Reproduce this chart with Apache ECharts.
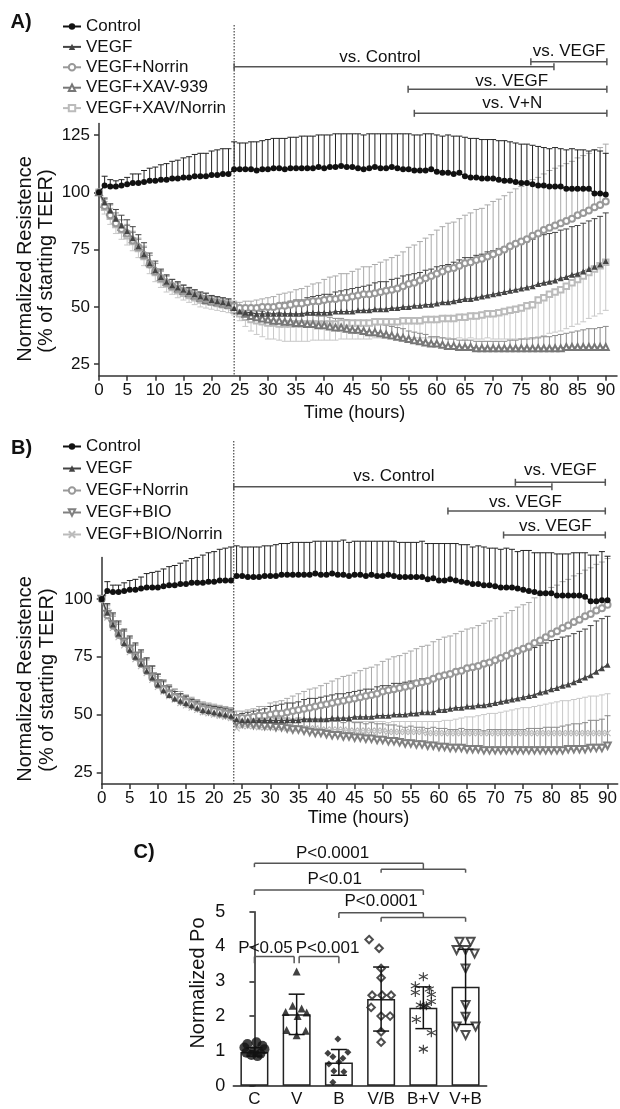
<!DOCTYPE html>
<html><head><meta charset="utf-8">
<script src="https://cdn.jsdelivr.net/npm/echarts@6/dist/echarts.min.js"></script>
<style>html,body{margin:0;padding:0;background:#fff}#c{width:620px;height:1109px}</style>
</head><body><div id="c"></div>
<script>
// ---------------- DATA ----------------
const hours = [0,1,2,3,4,5,6,7,8,9,10,11,12,13,14,15,16,17,18,19,20,21,22,23,
24,25,26,27,28,29,30,31,32,33,34,35,36,37,38,39,40,41,42,43,44,45,46,47,48,49,
50,51,52,53,54,55,56,57,58,59,60,61,62,63,64,65,66,67,68,69,70,71,72,73,74,75,
76,77,78,79,80,81,82,83,84,85,86,87,88,89,90];
const xTicks = [0,5,10,15,20,25,30,35,40,45,50,55,60,65,70,75,80,85,90];
const yTicksA = [25,50,75,100,125];
const yTicksB = [25,50,75,100];
const legendA = ['Control','VEGF','VEGF+Norrin','VEGF+XAV-939','VEGF+XAV/Norrin'];
const legendB = ['Control','VEGF','VEGF+Norrin','VEGF+BIO','VEGF+BIO/Norrin'];

// Panel A
const aControl = [100,103,102.5,102.5,103,103.5,104,104,104.5,105,105,105.5,105.5,106,106,106.5,106.5,107,107,107,107.5,107.5,108,108,
110,110,110,110,109.5,110,110,110.5,110.5,110,
110.5,110.5,110.5,110.5,110.5,111,110.5,111,111,111.5,
111,111,110.5,110,110.5,111,110.5,110.5,111,110.5,
110,110,109.5,109.5,109.5,110,109,108.5,108.5,108,
108.5,107,106.5,106.5,106,106,106,105.5,105,105,
104.5,104,104,103.5,103,103,102.5,102.5,102.5,101.5,
101.5,101.5,101.5,101.5,99.5,99.5,99];
const aControlErr = [0,4,3,2.5,2.5,3,4,4,5,5.5,6,6.5,7,7.5,8,8.5,9,9.5,10,10,10.5,11,11,11,
12,11.5,11.5,12,12.5,12.5,13,13,13,13.5,
13.5,13.5,14,14,14,14,14.5,14,14.5,14,
14.5,14.5,15,15,15,14.5,15,15,14.5,15,
15.5,15.5,15.5,15.5,16,15.5,16,16,16.5,16.5,
16,17,17,17,17,17,17,17,17.5,17,
17,17,17,17,17,16.5,16.5,17,16.5,17,
17.5,17,17,16.5,19,18.5,18];
const aVegf = [100,95.5,92,88.5,85.5,83,80,76.5,73,69,66,63,61,59.5,58.5,57.5,56.5,55.5,54.5,54,53,52.5,52,51.5,
49.5,48,47.5,47.5,47,47,47,47,47,47,
47,47,47,47.5,47.5,47.5,47.5,47.5,48,48,
48,48,48.5,48.5,48.5,49,49,49,49.5,49.5,
50,50,50.5,50.5,51,51,51.5,52,52,52.5,
53,53.5,53.5,54,54.5,55,55.5,56,56.5,57,
57.5,58,58.5,59,60,60.5,61,61.5,62.5,63,
64,64.5,65.5,66.5,67.5,68.5,70];
const aVegfErr = [0,2,3,4,4.5,5,5,5,5,4.5,4,3.5,3,2.5,2.5,2,2,2,2,2,2,2,2,2,
1,2,2.5,3,3,3.5,4,4,4.5,5,
5.5,6,6,6.5,7,7.5,8,8,8.5,9,
9.5,10,10,10.5,11,11.5,12,12,12.5,13,
13.5,14,14,14.5,15,15.5,16,16,16.5,17,
17.5,18,18,18.5,18.5,19,19,19.5,19.5,20,
20,20,20.5,20.5,21,21,21,21,21,21,
21,21,21,21,21,21,21];
const aNorrin = [100,94,90,86.5,84,82,79,76,72.5,68.5,65.5,62.5,60.5,59,58,57,56,55,54,53.5,52.5,52,51.5,51,
50.5,49.5,49.5,49.5,49.5,50,50,50,50.5,50.5,
51,51.5,51.5,52,52.5,52.5,53,53.5,53.5,54,
54,54.5,55,55.5,55.5,56,56.5,57,57.5,58,
59,60,60.5,61.5,62.5,63.5,64.5,65.5,66.5,67,
68,69,69.5,70.5,71,72,73,74,75,76.5,
77.5,78.5,79.5,81,82,83.5,84.5,85.5,86.5,87.5,
88.5,90,91,92,93.5,94.5,96];
const aNorrinErr = [0,2,3,3.5,4,4,4,4,4,4,3.5,3,3,3,2.5,2.5,2.5,2.5,2.5,2.5,2.5,2.5,2.5,2.5,
2,2.5,3,3,3.5,3.5,4,4.5,5,5.5,
5.5,6,6.5,7,7.5,8,9,9.5,10,10.5,
10.5,11,11.5,12,12,12.5,13,13.5,14,14.5,
15,16,16.5,17,17.5,18,19,19.5,20,20,
20.5,21,21.5,22,22,22.5,23,23,23.5,23.5,
24,24,24,24.5,24.5,24.5,25,25,25,25,
25,25,25,25,25,25,25];
const aXav = [100,95,91.5,88,85,82.5,79.5,76.5,73,69.5,66,63,61,59.5,58,57,56,55,54,53,52.5,52,51.5,51,
50,48.5,47,46,45.5,45,44.5,44,44,43.5,
43.5,43,43,42.5,42.5,42,42,41.5,41,41,
40.5,40,40,39.5,39,39,38.5,38,37.5,37,
36.5,36,35.5,35,34.5,34,34,33.5,33,33,
32.5,32.5,32.5,32,32,32,32,32,32,32,
32,32,32,32,32,32,32,32,32,32.5,
32.5,32.5,32.5,32.5,32.5,32.5,32.5];
const aXavErr = [0,2,3,3,3,3,3,3,3,3,3,3,2.5,2.5,2.5,2.5,2,2,2,2,2,2,2,2,
2,2,2.5,2.5,3,3,3,3,3.5,3.5,
3.5,3.5,4,4,4,4,4,4,4,4,
4,4,4,4,4,4,4,4,4,4,
4,3.5,3.5,3.5,3.5,3,3,3,3,3,
3,3,3,3,3,3,3,3,3,3.5,
3.5,4,4,4.5,4.5,5,5,5.5,6,6,
6.5,7,7.5,8,8,8.5,9];
const aXavN = [100,93.5,89.5,86,83.5,81,78.5,75.5,72,68.5,65,62,60,58.5,57,56,55,54,53,52.5,52,51.5,51,50.5,
48.5,47,45.5,44.5,44,43.5,43,43,42.5,42.5,
42.5,42.5,42.5,42.5,42.5,42.5,42.5,42.5,42.5,43,
43,43,43,43,43,43.5,43.5,43.5,43.5,43.5,
44,44,44,44,44.5,44.5,44.5,45,45,45,
45.5,45.5,46,46,46.5,47,47,47.5,48,48.5,
49,49.5,50.5,51,53,54,55.5,56.5,57.5,59,
60.5,62,63.5,65,66.5,68,69.5];
const aXavNErr = [0,3,3.5,4,4,4,4,4,4,4,4,3.5,3.5,3,3,3,3,3,3,3,3,3,3,3,
2,3,4,5,6,6.5,7,7,7,7.5,
7.5,7.5,7.5,7.5,7,7,7,7,7,7,
7,7,7,7,7,7,7,7,7,7,
7,7.5,7.5,7.5,8,8,8,8.5,8.5,9,
9,9.5,9.5,10,10.5,10.5,11,11.5,12,12.5,
13,13.5,14,15,16,16.5,17,17.5,18,18.5,
19,19.5,20,20,20.5,21,21];

// Panel B
const bControl = [100,103.5,103,103,103.5,104,104,104.5,105,105,105,105.5,106,106,106.5,106.5,107,107,107,107.5,107.5,108,108,108,
110,110,109.5,109.5,109.5,110,110,110,110.5,110.5,
110.5,110.5,110.5,110.5,111,110.5,110.5,111,110.5,110.5,
110,110.5,110.5,110,110.5,110,110,110.5,110,109.5,
109.5,109.5,109.5,109.5,108.5,109,108,108,108.5,108,
107.5,107,106.5,106.5,106,106,105.5,105,105,105,
104.5,104,103.5,103,102.5,102.5,102.5,101.5,101.5,101.5,
101.5,101.5,101,99,99,99.5,99.5];
const bControlErr = [0,4,3,3,3.5,4,4.5,5,6,6.5,7,7.5,8,8.5,9,10,10.5,11,12,12.5,13,13.5,14,14.5,
13,12.5,13,13,13,13,13,13.5,13.5,13.5,
14,14,14,14,14,14.5,14.5,14,14.5,15,
14.5,14.5,14.5,15,14.5,15,15,14.5,15,15,
15,15,15,15.5,15.5,15,16,16,15.5,16,
16,16.5,16,16.5,16.5,16,16.5,16.5,17,16.5,
16,17,17.5,17,17.5,17.5,17.5,18,18,18,
18.5,18.5,19,20,20,21,19];
const bVegf = [100,94,89,85,81,78,75,72,69,66,63,60.5,58.5,57,56,55,54,53,52,51.5,51,50.5,50,49.5,
48,47.5,47.5,47.5,47.5,47.5,47.5,47.5,47.5,47.5,
47.5,47.5,48,48,48,48,48,48.5,48.5,48.5,
48.5,49,49,49,49,49.5,49.5,49.5,50,50,
50,50.5,50.5,51,51,51,52,52,52.5,53,
53,53.5,53.5,54,54,54.5,55,55.5,56,56.5,
57,57.5,58,58.5,59.5,60,61,61.5,62.5,63,
64,65,66,67,68.5,70,71.5];
const bVegfErr = [0,4,5,5.5,6,6,6,6,5.5,5,4.5,4,3.5,3,3,3,2.5,2.5,2.5,2.5,2.5,2.5,2.5,2.5,
2,3,3.5,4,4.5,5,6,6.5,7,7.5,
7.5,8,8.5,9,9,9.5,10,10,10.5,10.5,
11,11,11.5,12,12,12.5,13,13,13.5,13.5,
14,14,14,14.5,14.5,14.5,15,15.5,16,16,
16.5,17,17.5,17.5,18,18.5,19,19,19.5,19.5,
20,20,20,20.5,20.5,21,21,21,21,21,
21,21,21,21.5,22,21.5,21];
const bNorrin = [100,93,88.5,84.5,81,78,75,72,69,66,63,61,59,57.5,56.5,55.5,54.5,53.5,52.5,52,51.5,51,50.5,50,
48.5,48.5,48.5,49,49.5,49.5,50,50.5,50.5,51,
51.5,52,52.5,53,53.5,54,54.5,55,55.5,56,
56.5,57,57.5,58,58.5,59,60,60.5,61,61.5,
62,62.5,63.5,64,64.5,65.5,66.5,67,67.5,68.5,
69,70,70.5,71,72,72.5,73.5,74.5,75.5,76.5,
77.5,78.5,79.5,81,82,83.5,85,86,87.5,88.5,
90,91,92.5,93.5,95,96,97.5];
const bNorrinErr = [0,3,4,4.5,5,5,5,5,5,5,4.5,4,4,3.5,3.5,3,3,3,3,3,3,3,3,3,
3,3,3.5,3.5,4,4,5,5,5.5,6,
6.5,7,7.5,8,8,8.5,9,9.5,10,10.5,
10.5,11,11.5,12,12,12.5,13,13.5,14,14,
14.5,15,15,15.5,15.5,16,16,16.5,16.5,16.5,
17,17,17,17.5,17.5,18,18,18,18.5,18.5,
19,19,19,19.5,19.5,19.5,20,20,20,20,
20,20,20,20,20,20,20];
const bBio = [100,93.5,89,85,81.5,78.5,75.5,72.5,69.5,66.5,63.5,61,59,57.5,56,55,54,53,52,51.5,51,50.5,50,49.5,
46.5,46,46,45.5,45.5,45,45,44.5,44.5,44,
43.5,43.5,43,42.5,42,42,41.5,41,41,40.5,
40.5,40,40,39.5,39.5,39,39,38.5,38.5,38,
37.5,37.5,37,37,36.5,36.5,36,36,35.5,35.5,
35.5,35,35,35,34.5,34.5,34.5,34.5,34.5,34.5,
34.5,34.5,34.5,34.5,34.5,34.5,34.5,34.5,34.5,35,
35,35,35,35.5,35.5,35.5,36.5];
const bBioErr = [0,4,4.5,5,5,5,5,5,5,4.5,4,4,3.5,3.5,3,3,3,3,3,3,3,3,3,3,
3,3,3,3.5,3.5,3.5,4,4,4,4.5,
4.5,5,5,5,5.5,5.5,6,6,6,6,
6.5,6.5,6.5,6.5,7,7,7,7,7,7,
7,7.5,7.5,7.5,7.5,8,8,8,8,8,
8.5,8.5,8.5,8.5,8.5,9,9,9,9,9,
9,9,9.5,9.5,9.5,10,10,10,10.5,10.5,
11,11,11.5,12,12,12.5,13];
const bBioN = [100,92,87.5,83.5,80,77,74,71,68,65,62,60,58,56.5,55,54,53,52,51,50.5,50,49.5,49,48.5,
44,45,45,45,44.5,44.5,44.5,44.5,44.5,44,
44,44,44,44,44,43.5,43.5,43.5,43.5,43.5,
43,43,43,43,43,43,43,42.5,42.5,42.5,
42.5,42.5,42.5,42.5,42,42,42,42,42,42,
42,42,42,42,42,42,42,42,42,42,
42,42,42,42,42,42,42,42,42,42,
42,42,42,42,42,42,42];
const bBioNErr = [0,5,5.5,6,6,6,6,6,5.5,5,4.5,4,4,3.5,3.5,3.5,3,3,3,3,3,3,3,3,
3,3,3,3.5,3.5,3.5,4,4,4,4,
4,4,4,4,4,4,4,4,4,4,
4,4,4,4,4,4,4,4,4.5,4.5,
4.5,4.5,4.5,4.5,5,5,5,5.5,5.5,6,
6.5,7,7,7.5,8,8.5,8.5,9,9.5,10,
10.5,11,11,11.5,12,12.5,13,13.5,14,14,
14.5,15,15.5,16,16,16.5,17];

// Significance annotations (time panels)
const sigLabelsA = ['vs. Control','vs. VEGF','vs. VEGF','vs. V+N'];
const sigFromA = [24, 76.7, 54.9, 56.0];
const sigToA = [80.8, 90.2, 90.2, 90.2];
const sigLabelsB = ['vs. Control','vs. VEGF','vs. VEGF','vs. VEGF'];
const sigFromB = [23.5, 73.6, 61.6, 71.5];
const sigToB = [80.1, 89.6, 89.6, 89.6];

// Panel C
const cCats = ['C','V','B','V/B','B+V','V+B'];
const cMean = [0.97, 2.05, 0.67, 2.49, 2.24, 2.84];
const cSd = [0.12, 0.58, 0.37, 0.92, 0.60, 1.08];
const cPtsC = [1.25,1.2,1.15,1.1,1.05,1.0,0.95,0.92,0.88,0.85];
const cPtsV = [3.28,2.3,2.22,2.12,2.1,2.0,1.6,1.58,1.45];
const cPtsB = [1.34,0.96,0.93,0.83,0.79,0.68,0.62,0.42,0.40,0.1];
const cPtsVB = [4.2,3.95,3.37,3.1,2.6,2.6,2.6,2.25,2.0,2.0,1.55,1.25];
const cPtsBV = [3.13,2.87,2.78,2.68,2.62,2.42,2.32,2.3,2.28,1.9,1.52,1.05];
const cPtsVpB = [4.14,4.14,3.9,3.9,3.8,3.37,2.32,1.98,1.7,1.7,1.46];
const cSigLabels = ['P<0.0001','P<0.01','P<0.0001','P<0.05','P<0.001'];

// ---------------- LAYOUT / STYLE ----------------
const FONT = "'Liberation Sans', Arial, Helvetica, sans-serif";
// horizontal jitter of dots inside each bar (px)
const jitC = [2,-7,8,-10,10,0,-8,6,-3,3];
const jitV = [0,-4,5,-11,10,1,-10,9,0];
const jitB = [-1,9,-11,-6,4,0,-10,-5,5,-6];
const jitVB = [-12,-2,0,0,-9,1,10,-10,0,9,0,0];
const jitBV = [0,-8,6,-8,8,8,-3,3,0,-7,8,0];
const jitVpB = [-6,5,-9,0,9,0,0,0,-9,10,0];
const CAT_PX = 42.2;

const chart = echarts.init(document.getElementById('c'), null, {renderer:'canvas'});

function errRender(dir, color){
  return function(params, api){
    const x = api.value(0), y = api.value(1), e = api.value(2);
    if (!e) return null;
    const p0 = api.coord([x, y]), p1 = api.coord([x, y + dir * e]);
    const cw = 3;
    return {type:'group', children:[
      {type:'line', shape:{x1:p0[0], y1:p0[1], x2:p1[0], y2:p1[1]}, style:{stroke:color, lineWidth:1}},
      {type:'line', shape:{x1:p1[0]-cw, y1:p1[1], x2:p1[0]+cw, y2:p1[1]}, style:{stroke:color, lineWidth:1}}
    ]};
  };
}
function errSeries(vals, errs, ax, dir, color, z){
  return {type:'custom', xAxisIndex:ax, yAxisIndex:ax, clip:false, silent:true, z:z,
    renderItem: errRender(dir, color), data: hours.map((h,i)=>[h, vals[i], errs[i]])};
}
function lineSeries(name, vals, ax, st, z){
  return {type:'line', name:name, xAxisIndex:ax, yAxisIndex:ax, z:z,
    data: hours.map((h,i)=>[h, vals[i]]),
    symbol: st.symbol, symbolSize: st.size, symbolRotate: st.rot || 0,
    lineStyle:{color:st.line, width:1.2},
    itemStyle: st.itemStyle || {color: st.color},
    emphasis:{disabled:true}};
}
const ST = {
  control:{symbol:'circle', size:6, color:'#111', line:'#111'},
  vegf:{symbol:'triangle', size:6, color:'#444', line:'#444'},
  norrin:{symbol:'emptyCircle', size:6, color:'#999', line:'#999'},
  xav:{symbol:'emptyTriangle', size:6, color:'#777', line:'#777'},
  xavn:{symbol:'emptyRect', size:5.5, color:'#bbb', line:'#bbb'},
  bio:{symbol:'emptyTriangle', size:6.5, rot:180, color:'#808080', line:'#808080'},
  bion:{symbol:'path://M0,0L10,10M10,0L0,10', size:6, line:'#bbb',
        itemStyle:{color:'rgba(0,0,0,0)', borderColor:'#bbb', borderWidth:1.2}}
};

function timeX(gi, max){
  return {type:'value', gridIndex:gi, min:0, max:max,
    axisLine:{show:true, onZero:false, lineStyle:{color:'#333', width:1.5}},
    axisTick:{show:true, length:5, customValues:xTicks, lineStyle:{color:'#333', width:1.5}},
    axisLabel:{customValues:xTicks, fontSize:17, fontFamily:FONT, color:'#111', margin:6},
    splitLine:{show:false}};
}
function timeY(gi, max, ticks){
  return {type:'value', gridIndex:gi, min:20, max:max,
    axisLine:{show:true, onZero:false, lineStyle:{color:'#333', width:1.5}},
    axisTick:{show:true, length:5, customValues:ticks, lineStyle:{color:'#333', width:1.5}},
    axisLabel:{customValues:ticks, fontSize:17, fontFamily:FONT, color:'#111', margin:9},
    splitLine:{show:false}};
}

function scatterC(pts, jit, ci, sym, size, style, rot){
  return {type:'scatter', xAxisIndex:3, yAxisIndex:2, z:5, symbol:sym, symbolSize:size, symbolRotate:rot||0,
    itemStyle:style, emphasis:{disabled:true},
    data: pts.map((v,i)=>[ci + jit[i]/CAT_PX, v])};
}

const option = {
  animation:false,
  backgroundColor:'#fff',
  textStyle:{fontFamily:FONT},
  grid:[
    {left:99, top:123.5, width:518, height:252.2},
    {left:101.7, top:557.4, width:517.8, height:226.5},
    {left:233.3, top:911.7, width:253.4, height:174}
  ],
  legend:[
    {data:legendA, orient:'vertical', left:57, top:13, itemWidth:18, itemHeight:8, itemGap:3.4, padding:5,
     selectedMode:false, textStyle:{fontSize:17, lineHeight:17, color:'#111', fontFamily:FONT}},
    {data:legendB, orient:'vertical', left:57, top:433, itemWidth:18, itemHeight:8, itemGap:5, padding:5,
     selectedMode:false, textStyle:{fontSize:17, lineHeight:17, color:'#111', fontFamily:FONT}}
  ],
  xAxis:[
    timeX(0, 92),
    timeX(1, 91.8),
    {type:'category', gridIndex:2, data:cCats,
     axisLine:{lineStyle:{color:'#222', width:1.5}},
     axisTick:{alignWithLabel:true, length:5, lineStyle:{color:'#222', width:1.5}},
     axisLabel:{interval:0, fontSize:17, fontFamily:FONT, color:'#111', margin:5}},
    {type:'value', gridIndex:2, min:-0.5, max:5.5, show:false}
  ],
  yAxis:[
    timeY(0, 130, yTicksA),
    timeY(1, 118, yTicksB),
    {type:'value', gridIndex:2, min:0, max:5, interval:1,
     axisLine:{show:true, lineStyle:{color:'#222', width:1.5}},
     axisTick:{show:true, length:5, lineStyle:{color:'#222', width:1.5}},
     axisLabel:{fontSize:18, fontFamily:FONT, color:'#111', margin:8},
     splitLine:{show:false}}
  ],
  series:[
    // Panel A
    errSeries(aXavN, aXavNErr, 0, -1, '#c8c8c8', 2),
    errSeries(aXav, aXavErr, 0, 1, '#8a8a8a', 2),
    errSeries(aNorrin, aNorrinErr, 0, 1, '#aaa', 2),
    errSeries(aVegf, aVegfErr, 0, 1, '#444', 2),
    errSeries(aControl, aControlErr, 0, 1, '#222', 2),
    lineSeries('VEGF+XAV/Norrin', aXavN, 0, ST.xavn, 3),
    lineSeries('VEGF+XAV-939', aXav, 0, ST.xav, 3),
    lineSeries('VEGF+Norrin', aNorrin, 0, ST.norrin, 3),
    lineSeries('VEGF', aVegf, 0, ST.vegf, 3),
    lineSeries('Control', aControl, 0, ST.control, 4),
    // Panel B
    errSeries(bBioN, bBioNErr, 1, 1, '#c8c8c8', 2),
    errSeries(bBio, bBioErr, 1, 1, '#8a8a8a', 2),
    errSeries(bNorrin, bNorrinErr, 1, 1, '#aaa', 2),
    errSeries(bVegf, bVegfErr, 1, 1, '#444', 2),
    errSeries(bControl, bControlErr, 1, 1, '#222', 2),
    lineSeries('VEGF+BIO/Norrin', bBioN, 1, ST.bion, 3),
    lineSeries('VEGF+BIO', bBio, 1, ST.bio, 3),
    lineSeries('VEGF+Norrin', bNorrin, 1, ST.norrin, 3),
    lineSeries('VEGF', bVegf, 1, ST.vegf, 3),
    lineSeries('Control', bControl, 1, ST.control, 4),
    // Panel C
    {type:'bar', xAxisIndex:2, yAxisIndex:2, data:cMean, barWidth:28, z:2,
     itemStyle:{color:'#fff', borderColor:'#222', borderWidth:1.5}, emphasis:{disabled:true}},
    scatterC(cPtsC, jitC, 0, 'circle', 10, {color:'#111'}),
    scatterC(cPtsV, jitV, 1, 'triangle', 8, {color:'#111'}),
    scatterC(cPtsB, jitB, 2, 'diamond', 7, {color:'#111'}),
    scatterC(cPtsVB, jitVB, 3, 'emptyDiamond', 7.5, {color:'#222', borderWidth:1.1}),
    scatterC(cPtsBV, jitBV, 4, 'path://M5,0L5,10M0.7,2.5L9.3,7.5M0.7,7.5L9.3,2.5', 9,
             {color:'rgba(0,0,0,0)', borderColor:'#111', borderWidth:1.2}),
    scatterC(cPtsVpB, jitVpB, 5, 'emptyTriangle', 8, {color:'#222', borderWidth:1.1}, 180),
    {type:'custom', xAxisIndex:2, yAxisIndex:2, z:6, silent:true,
     data: cMean.map((m,i)=>[i, m, cSd[i]]),
     renderItem:function(params, api){
       const i = api.value(0), m = api.value(1), s = api.value(2);
       const hi = api.coord([i, m + s]), lo = api.coord([i, m - s]);
       const cw = 8, st = {stroke:'#111', lineWidth:1.5};
       return {type:'group', children:[
         {type:'line', shape:{x1:hi[0], y1:hi[1], x2:lo[0], y2:lo[1]}, style:st},
         {type:'line', shape:{x1:hi[0]-cw, y1:hi[1], x2:hi[0]+cw, y2:hi[1]}, style:st},
         {type:'line', shape:{x1:lo[0]-cw, y1:lo[1], x2:lo[0]+cw, y2:lo[1]}, style:st}
       ]};
     }}
  ]
};
chart.setOption(option);

// ---------------- ANNOTATIONS ----------------
const G = [];
function gl(x1,y1,x2,y2,stroke,w,dash){
  G.push({type:'line', silent:true, z:100, shape:{x1,y1,x2,y2},
    style:{stroke:stroke, lineWidth:w, lineDash:dash || null}});
}
function gt(text,x,y,o){
  o = o || {};
  G.push({type:'text', silent:true, z:100, x:x, y:y, rotation:o.rot || 0,
    style:{text:text, fontSize:o.size || 17, fontFamily:FONT, fontWeight:o.weight || 'normal',
      fill:'#111', align:o.align || 'center', verticalAlign:'middle'}});
}
const pxA = h => chart.convertToPixel({xAxisIndex:0, yAxisIndex:0}, [h, 50])[0];
const pxB = h => chart.convertToPixel({xAxisIndex:1, yAxisIndex:1}, [h, 50])[0];
const pxC = (c, v) => chart.convertToPixel({xAxisIndex:3, yAxisIndex:2}, [c, v]);

// dotted treatment lines
gl(pxA(24), 25, pxA(24), 376, '#222', 1, [1.5, 1.5]);
gl(pxB(23.5), 441, pxB(23.5), 784, '#222', 1, [1.5, 1.5]);

// time-panel brackets
const sigYA = [66.7, 61.7, 89.3, 113.3], sigTYA = [57.3, 51.7, 81, 103.3], sigTXA = [49.9, 83.5, 73.3, 73.4];
const sigYB = [486.7, 482.3, 511, 535], sigTYB = [476, 470.7, 502.3, 526.7], sigTXB = [52.0, 81.6, 75.4, 80.7];
function bracketsTime(labels, from, to, ys, tys, txs, px){
  labels.forEach((lab, i) => {
    const x1 = px(from[i]), x2 = px(to[i]), y = ys[i];
    gl(x1, y, x2, y, '#555', 1.5);
    gl(x1, y - 3.5, x1, y + 3.5, '#555', 1.5);
    gl(x2, y - 3.5, x2, y + 3.5, '#555', 1.5);
    gt(lab, px(txs[i]), tys[i]);
  });
}
bracketsTime(sigLabelsA, sigFromA, sigToA, sigYA, sigTYA, sigTXA, pxA);
bracketsTime(sigLabelsB, sigFromB, sigToB, sigYB, sigTYB, sigTXB, pxB);

// panel C brackets (y in data units above the axis)
(function(){
  const S = '#555', W = 1.5;
  const P = pxC;
  let a = P(0, 6.39), j = P(4, 6.39), aD = P(0, 6.28), jD = P(4, 6.22);
  gl(a[0], a[1], j[0], j[1], S, W); gl(a[0], a[1], aD[0], aD[1], S, W); gl(j[0], j[1], jD[0], jD[1], S, W);
  let s1 = P(3, 6.22), s2 = P(5, 6.22), s1d = P(3, 6.12), s2d = P(5, 6.12);
  gl(s1[0], s1[1], s2[0], s2[1], S, W); gl(s1[0], s1[1], s1d[0], s1d[1], S, W); gl(s2[0], s2[1], s2d[0], s2d[1], S, W);
  let t = P(1.85, 6.68); gt(cSigLabels[0], t[0], t[1]);
  a = P(0, 5.62); j = P(4, 5.62); aD = P(0, 5.48); jD = P(4, 5.48);
  gl(a[0], a[1], j[0], j[1], S, W); gl(a[0], a[1], aD[0], aD[1], S, W); gl(j[0], j[1], jD[0], jD[1], S, W);
  t = P(1.9, 5.93); gt(cSigLabels[1], t[0], t[1]);
  a = P(2, 4.97); j = P(4, 4.97); aD = P(2, 4.82); jD = P(4, 4.83);
  gl(a[0], a[1], j[0], j[1], S, W); gl(a[0], a[1], aD[0], aD[1], S, W); gl(j[0], j[1], jD[0], jD[1], S, W);
  s1 = P(3, 4.83); s2 = P(5, 4.83); s1d = P(3, 4.71); s2d = P(5, 4.71);
  gl(s1[0], s1[1], s2[0], s2[1], S, W); gl(s1[0], s1[1], s1d[0], s1d[1], S, W); gl(s2[0], s2[1], s2d[0], s2d[1], S, W);
  t = P(3, 5.29); gt(cSigLabels[2], t[0], t[1]);
  const off = 2.5 / CAT_PX;
  a = P(0, 3.71); j = P(1 - off, 3.71); aD = P(0, 3.52); jD = P(1 - off, 3.52);
  gl(a[0], a[1], j[0], j[1], S, W); gl(a[0], a[1], aD[0], aD[1], S, W); gl(j[0], j[1], jD[0], jD[1], S, W);
  t = P(1 - 4 / CAT_PX, 3.95); gt(cSigLabels[3], t[0], t[1], {align:'right'});
  a = P(1 + off, 3.71); j = P(2, 3.71); aD = P(1 + off, 3.52); jD = P(2, 3.52);
  gl(a[0], a[1], j[0], j[1], S, W); gl(a[0], a[1], aD[0], aD[1], S, W); gl(j[0], j[1], jD[0], jD[1], S, W);
  t = P(1 - 1 / CAT_PX, 3.95); gt(cSigLabels[4], t[0], t[1], {align:'left'});
})();

// axis titles & panel letters
gt('Normalized Resistence', 25, 259, {size:20, rot:Math.PI/2});
gt('(% of starting TEER)', 46.7, 261, {size:20, rot:Math.PI/2});
gt('Normalized Resistence', 25, 679, {size:20, rot:Math.PI/2});
gt('(% of starting TEER)', 47, 680, {size:20, rot:Math.PI/2});
gt('Normalized Po', 198.3, 983, {size:20, rot:Math.PI/2});
gt('Time (hours)', 354.5, 413, {size:18});
gt('Time (hours)', 358.5, 818, {size:18});
gt('A)', 21, 22.5, {size:20, weight:'bold'});
gt('B)', 21.5, 448.3, {size:20, weight:'bold'});
gt('C)', 144, 852, {size:20, weight:'bold'});

chart.setOption({graphic: G});
</script>
</body></html>
